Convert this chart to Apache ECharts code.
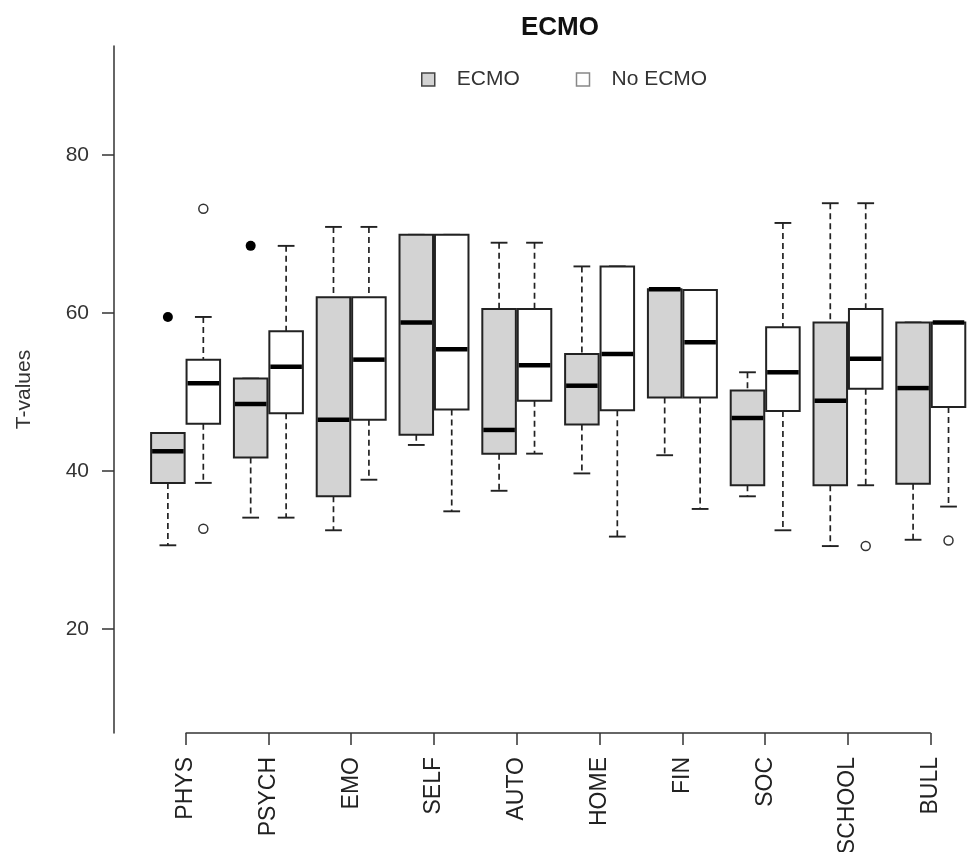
<!DOCTYPE html>
<html>
<head>
<meta charset="utf-8">
<script src="https://cdn.jsdelivr.net/npm/echarts@6/dist/echarts.min.js"></script>
<style>
html,body{margin:0;padding:0;background:#fff;}
#chart{width:968px;height:852px;}
</style>
</head>
<body>
<div id="chart"></div>
<script>
// ---------- data ----------
const categories = ['PHYS','PSYCH','EMO','SELF','AUTO','HOME','FIN','SOC','SCHOOL','BULL'];
const yTicks = [20, 40, 60, 80];

// ECMO group (grey boxes)
const ecmoLow    = [30.6, 34.1, 32.5, 43.3, 37.5, 39.7, 42.0, 36.8, 30.5, 31.3];
const ecmoQ1     = [38.5, 41.7, 36.8, 44.6, 42.2, 45.9, 49.3, 38.2, 38.2, 38.4];
const ecmoMedian = [42.5, 48.5, 46.5, 58.8, 45.2, 50.8, 63.0, 46.7, 48.9, 50.5];
const ecmoQ3     = [44.8, 51.7, 62.0, 69.9, 60.5, 54.8, 63.0, 50.2, 58.8, 58.8];
const ecmoHigh   = [44.8, 51.7, 70.9, 69.9, 68.9, 65.9, 63.0, 52.5, 73.9, 58.8];
const ecmoOutlierCats = ['PHYS', 'PSYCH'];
const ecmoOutlierVals = [59.5, 68.5];

// No ECMO group (white boxes)
const noEcmoLow    = [38.5, 34.1, 38.9, 34.9, 42.2, 31.7, 35.2, 32.5, 38.2, 35.5];
const noEcmoQ1     = [46.0, 47.3, 46.5, 47.8, 48.9, 47.7, 49.3, 47.6, 50.4, 48.1];
const noEcmoMedian = [51.1, 53.2, 54.1, 55.4, 53.4, 54.8, 56.3, 52.5, 54.2, 58.8];
const noEcmoQ3     = [54.1, 57.7, 62.0, 69.9, 60.5, 65.9, 62.9, 58.2, 60.5, 58.8];
const noEcmoHigh   = [59.5, 68.5, 70.9, 69.9, 68.9, 65.9, 62.9, 71.4, 73.9, 58.8];
const noEcmoOutlierCats = ['PHYS', 'PHYS', 'SCHOOL', 'BULL'];
const noEcmoOutlierVals = [73.2, 32.7, 30.5, 31.2];

const yMin = 6.84, yMax = 93.8;

// ---------- build ----------
const FONT = 'Liberation Sans, Arial, Helvetica, sans-serif';
const OFFSET = 0.214, BOXW = 0.405, CAP = 0.5;

function boxData(low, q1, med, q3, high) {
  return categories.map((c, i) => [i, low[i], q1[i], med[i], q3[i], high[i]]);
}
function outlierData(cats, vals) {
  return cats.map((c, k) => [categories.indexOf(c), vals[k]]);
}

function makeBoxRenderer(side, fill) {
  return function (params, api) {
    const i = api.value(0);
    const band = api.size([1, 0])[0];
    const cx = api.coord([i, yMin])[0] + side * band * OFFSET;
    const half = band * BOXW / 2;
    const capHalf = half * CAP;
    const y = k => api.coord([i, api.value(k)])[1];
    const yLow = y(1), yQ1 = y(2), yMed = y(3), yQ3 = y(4), yHigh = y(5);
    const dash = { stroke: '#222', lineWidth: 1.7, lineDash: [6, 4] };
    const solid = { stroke: '#222', lineWidth: 1.9 };
    const children = [];
    if (yLow - yQ1 > 0.5) {
      children.push({ type: 'line', shape: { x1: cx, y1: yQ1, x2: cx, y2: yLow }, style: dash });
    }
    children.push({ type: 'line', shape: { x1: cx - capHalf, y1: yLow, x2: cx + capHalf, y2: yLow }, style: solid });
    if (yQ3 - yHigh > 0.5) {
      children.push({ type: 'line', shape: { x1: cx, y1: yHigh, x2: cx, y2: yQ3 }, style: dash });
    }
    children.push({ type: 'line', shape: { x1: cx - capHalf, y1: yHigh, x2: cx + capHalf, y2: yHigh }, style: solid });
    children.push({ type: 'rect', shape: { x: cx - half, y: yQ3, width: 2 * half, height: yQ1 - yQ3 },
      style: { fill: fill, stroke: '#222', lineWidth: 2 } });
    children.push({ type: 'line', shape: { x1: cx - half + 1, y1: yMed, x2: cx + half - 1, y2: yMed },
      style: { stroke: '#000', lineWidth: 4.5 } });
    return { type: 'group', children: children };
  };
}

function makeOutlierRenderer(side, filled) {
  return function (params, api) {
    const i = api.value(0);
    const band = api.size([1, 0])[0];
    const p = api.coord([i, api.value(1)]);
    return {
      type: 'circle',
      shape: { cx: p[0] + side * band * OFFSET, cy: p[1], r: filled ? 5 : 4.5 },
      style: filled ? { fill: '#000' } : { fill: '#fff', stroke: '#333', lineWidth: 1.5 }
    };
  };
}

const chart = echarts.init(document.getElementById('chart'), null, { renderer: 'canvas' });

const option = {
  animation: false,
  backgroundColor: '#fff',
  textStyle: { fontFamily: FONT },
  title: {
    text: 'ECMO',
    left: 521, top: 15, padding: 0,
    textStyle: { fontFamily: FONT, fontSize: 26, fontWeight: 'bold', color: '#111' }
  },
  legend: {
    left: 421, top: 69, padding: 0,
    itemWidth: 13, itemHeight: 13, itemGap: 56,
    selectedMode: false,
    textStyle: { fontFamily: FONT, fontSize: 21, color: '#333', padding: [0, 0, 0, 17] },
    data: [
      { name: 'ECMO', icon: 'rect', itemStyle: { color: '#d3d3d3', borderColor: '#444', borderWidth: 1.5 } },
      { name: 'No ECMO', icon: 'rect', itemStyle: { color: '#fff', borderColor: '#888', borderWidth: 1.5 } }
    ]
  },
  grid: { left: 144.2, top: 46, width: 828, height: 687, containLabel: false, outerBoundsMode: 'none' },
  xAxis: {
    type: 'category',
    data: categories,
    boundaryGap: true,
    axisLine: { show: false },
    axisTick: { show: true, alignWithLabel: true, length: 12, lineStyle: { color: '#333', width: 1.5 } },
    axisLabel: { interval: 0, rotate: 90, margin: 24, fontSize: 23, color: '#222', fontFamily: FONT },
    splitLine: { show: false }
  },
  yAxis: {
    type: 'value',
    min: yMin, max: yMax,
    offset: 30.2,
    splitLine: { show: false },
    axisLine: { show: true, lineStyle: { color: '#333', width: 1.5 } },
    axisTick: { show: true, length: 12, customValues: yTicks, lineStyle: { color: '#333', width: 1.5 } },
    axisLabel: { customValues: yTicks, margin: 25, fontSize: 21, color: '#333', fontFamily: FONT },
    name: 'T-values',
    nameLocation: 'middle',
    nameRotate: 90,
    nameGap: 79,
    nameTextStyle: { fontSize: 21, color: '#333', fontFamily: FONT }
  },
  series: [
    {
      name: 'ECMO', type: 'custom',
      renderItem: makeBoxRenderer(-1, '#d3d3d3'),
      encode: { x: 0, y: [1, 2, 3, 4, 5] },
      data: boxData(ecmoLow, ecmoQ1, ecmoMedian, ecmoQ3, ecmoHigh),
      itemStyle: { color: '#d3d3d3' }, clip: false
    },
    {
      name: 'No ECMO', type: 'custom',
      renderItem: makeBoxRenderer(1, '#ffffff'),
      encode: { x: 0, y: [1, 2, 3, 4, 5] },
      data: boxData(noEcmoLow, noEcmoQ1, noEcmoMedian, noEcmoQ3, noEcmoHigh),
      itemStyle: { color: '#ffffff' }, clip: false
    },
    {
      name: 'ECMO', type: 'custom',
      renderItem: makeOutlierRenderer(-1, true),
      encode: { x: 0, y: 1 },
      data: outlierData(ecmoOutlierCats, ecmoOutlierVals), clip: false
    },
    {
      name: 'No ECMO', type: 'custom',
      renderItem: makeOutlierRenderer(1, false),
      encode: { x: 0, y: 1 },
      data: outlierData(noEcmoOutlierCats, noEcmoOutlierVals), clip: false
    },
    {
      name: 'baseline', type: 'line',
      data: [[0, yMin], [categories.length - 1, yMin]],
      symbol: 'none', silent: true, clip: false,
      lineStyle: { color: '#333', width: 1.5 },
      z: 1
    }
  ]
};
chart.setOption(option);
</script>
</body>
</html>
